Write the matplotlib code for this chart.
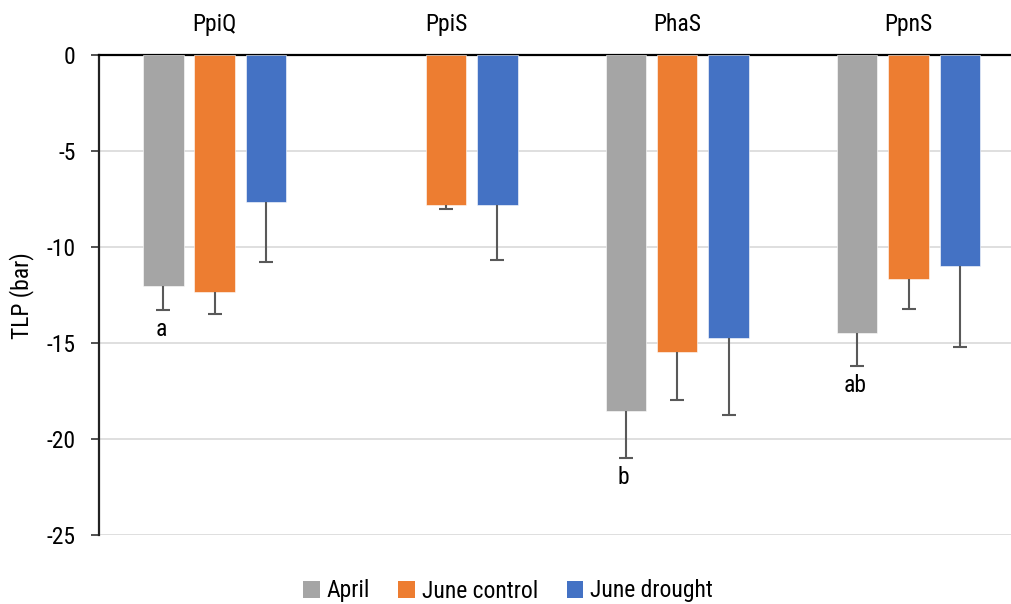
import matplotlib
matplotlib.use("Agg")
import matplotlib.pyplot as plt
import numpy as np
from matplotlib.patches import Patch
import logging

logging.getLogger("matplotlib.font_manager").setLevel(logging.ERROR)
plt.rcParams['font.family'] = ['Roboto Condensed', 'Liberation Sans Narrow', 'Roboto', 'DejaVu Sans']
plt.rcParams['font.stretch'] = 'condensed'

species = ["PpiQ", "PpiS", "PhaS", "PpnS"]
series = ["April", "June control", "June drought"]
colors = ["#A5A5A5", "#ED7D31", "#4472C4"]

april = [-12.03, np.nan, -18.52, -14.50]
june_control = [-12.33, -7.81, -15.47, -11.68]
june_drought = [-7.66, -7.81, -14.74, -10.97]

april_err = [1.25, np.nan, 2.47, 1.70]
june_control_err = [1.16, 0.21, 2.50, 1.55]
june_drought_err = [3.10, 2.87, 4.00, 4.22]

letters = ["a", "", "b", "ab"]

values = [april, june_control, june_drought]
errors = [april_err, june_control_err, june_drought_err]

fig = plt.figure(figsize=(10.12, 6.04), dpi=100)
ax = fig.add_axes([99 / 1012, (604 - 535) / 604, (1012 - 99) / 1012, 480 / 604])

x = np.arange(len(species))
width = 0.175
offset = 0.222

for i, (vals, errs, col) in enumerate(zip(values, errors, colors)):
    pos = x + (i - 1) * offset
    v = np.array(vals, dtype=float)
    e = np.array(errs, dtype=float)
    ax.bar(pos, v, width=width, color=col, zorder=3, edgecolor="white", linewidth=0.4)
    # downward-only error bars: whisker plus a cap at the lower end
    ax.errorbar(pos, v, yerr=[e, np.zeros_like(e)], fmt="none", ecolor="#595959",
                elinewidth=1.5, capsize=0, zorder=4)
    ax.plot(pos, v - e, linestyle="none", marker="_", markersize=10,
            markeredgewidth=1.5, color="#595959", zorder=4)

# significance letters beneath the April bars
for xi, v, e, lab in zip(x - offset, april, april_err, letters):
    if lab:
        ax.text(xi - 0.01, v - e - 1.0, lab, ha="center", va="center", fontsize=17, color="black")

ax.set_ylim(-25, 0)
ax.set_xlim(-0.5, -0.5 + (1012 - 99) / 231.3)
ax.set_yticks([0, -5, -10, -15, -20, -25])
ax.set_yticklabels(["0", "-5", "-10", "-15", "-20", "-25"])
ax.tick_params(axis="y", labelsize=17, length=5.8, width=1.2, color="#333333", pad=11)
ax.yaxis.grid(True, color="#D9D9D9", linewidth=1.2, zorder=0)
ax.set_axisbelow(True)

ax.xaxis.set_ticks_position("top")
ax.set_xticks(x)
ax.set_xticklabels(species)
ax.tick_params(axis="x", labelsize=17, length=0, pad=14)

for side in ["right", "bottom"]:
    ax.spines[side].set_visible(False)
ax.spines["top"].set_color("black")
ax.spines["top"].set_linewidth(1.6)
ax.spines["left"].set_color("#222222")
ax.spines["left"].set_linewidth(1.6)

fig.text(22 / 1012, 1 - 296 / 604, "TLP (bar)", rotation=90, ha="center", va="center", fontsize=17)

handles = [Patch(facecolor=c, edgecolor="none") for c in colors]
fig.legend(handles, series, loc="center", bbox_to_anchor=(508 / 1012, 1 - 591 / 604),
           ncol=3, frameon=False, fontsize=17, handlelength=0.7, handleheight=0.7,
           handletextpad=0.3, columnspacing=1.2)

fig.savefig("out.png", dpi=100)
